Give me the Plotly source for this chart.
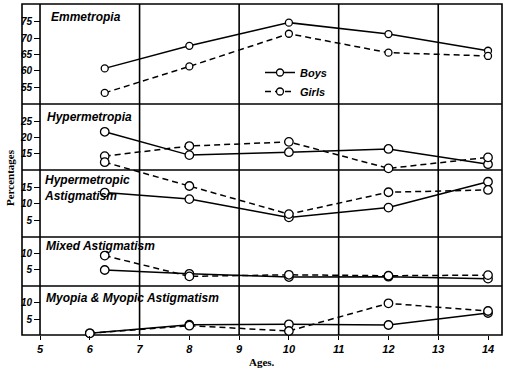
import plotly.graph_objects as go

# ---------------- data ----------------
ages = [6.3, 8, 10, 12, 14]
ages_myopia = [6, 8, 10, 12, 14]

emm_boys = [60.8, 67.7, 74.8, 71.3, 66.2]
emm_girls = [53.3, 61.4, 71.4, 65.6, 64.6]

hyp_boys = [21.8, 14.6, 15.5, 16.5, 11.8]
hyp_girls = [14.3, 17.4, 18.7, 10.5, 13.9]

hast_boys = [13.4, 11.4, 5.8, 8.8, 16.7]
hast_girls = [22.7, 15.4, 6.8, 13.5, 14.2]

mix_boys = [4.8, 3.6, 2.6, 2.7, 2.1]
mix_girls = [9.3, 2.8, 3.3, 3.0, 3.2]

myo_boys = [0.8, 3.4, 3.5, 3.3, 6.9]
myo_girls = [0.8, 3.1, 1.5, 9.8, 7.5]

panel_titles = ["Emmetropia", "Hypermetropia", "Hypermetropic<br>Astigmatism",
                "Mixed Astigmatism", "Myopia & Myopic Astigmatism"]
x_ticks = list(range(5, 15))
grid_ages = [5, 7, 9, 11, 13]

# ---------------- layout helpers ----------------
W, H = 510, 372
ML, MR, MT, MB = 22, 8, 4, 37
PW, PH = W - ML - MR, H - MT - MB

def py(pix):  # pixel row -> paper y
    return (H - MB - pix) / PH

def px(pix):  # pixel column -> paper x
    return (pix - ML) / PW

bounds = [4, 104, 170, 237, 286, 335]
sep = [py(b) for b in bounds]

panels = [
    dict(ax="y", x=ages, b=emm_boys, g=emm_girls, rng=[49.9, 80.5], ticks=[55, 60, 65, 70, 75],
         dom=[sep[1], sep[0]], msize=7),
    dict(ax="y2", x=ages, b=hyp_boys, g=hyp_girls, rng=[10.0, 30.4], ticks=[15, 20, 25],
         dom=[sep[2], sep[1]], msize=8.5),
    dict(ax="y3", x=ages, b=hast_boys, g=hast_girls, rng=[-0.2, 26.38], ticks=[5, 10, 15],
         dom=[sep[3], sep[2] + 0.06], msize=8.5),
    dict(ax="y4", x=ages, b=mix_boys, g=mix_girls, rng=[-0.2, 15.1], ticks=[5, 10],
         dom=[sep[4], sep[3]], msize=8.5),
    dict(ax="y5", x=ages_myopia, b=myo_boys, g=myo_girls, rng=[0.3, 15.0], ticks=[5, 10],
         dom=[sep[5], sep[4]], msize=8.5),
]

tickfont = dict(family="Liberation Sans", size=10, color="black", weight="bold", style="italic")

fig = go.Figure()
for i, p in enumerate(panels):
    for name, vals, dash in (("Boys", p["b"], "solid"), ("Girls", p["g"], "6px,4px")):
        fig.add_trace(go.Scatter(
            x=p["x"], y=vals, mode="lines+markers", name=name,
            legendgroup=name, showlegend=(i == 0),
            line=dict(color="black", width=1.5, dash=dash),
            marker=dict(symbol="circle", size=p["msize"], color="white",
                        line=dict(color="black", width=1.3)),
            cliponaxis=False, xaxis="x", yaxis=p["ax"], hoverinfo="skip"))

layout = dict(
    width=W, height=H, margin=dict(l=ML, r=MR, t=MT, b=MB),
    paper_bgcolor="white", plot_bgcolor="rgba(0,0,0,0)",
    font=dict(family="Liberation Sans", color="black"),
    xaxis=dict(domain=[0, 1], range=[4.638, 14.281], tickvals=x_ticks,
               ticktext=[str(t) for t in x_ticks], ticks="outside", ticklen=4,
               tickwidth=1.3, tickcolor="black", showgrid=False, zeroline=False,
               showline=False, anchor="y5",
               tickfont=dict(family="Liberation Sans", size=11, color="black",
                             weight="bold", style="italic")),
    legend=dict(x=px(260), y=py(58), xanchor="left", yanchor="top",
                bgcolor="rgba(0,0,0,0)", borderwidth=0, itemwidth=30,
                font=dict(family="Liberation Sans", size=11, color="black",
                          weight="bold", style="italic"),
                tracegroupgap=0),
    showlegend=True,
)
for p in panels:
    key = "yaxis" if p["ax"] == "y" else "yaxis" + p["ax"][1:]
    layout[key] = dict(domain=p["dom"], range=p["rng"], tickvals=p["ticks"],
                       anchor="free", position=px(40), ticks="outside", ticklen=6,
                       tickwidth=1.3, tickcolor="black", showgrid=False,
                       zeroline=False, showline=False, tickfont=tickfont)
fig.update_layout(**layout)

# frame, panel separators, vertical grid lines
shapes = [dict(type="rect", xref="paper", yref="paper", x0=0, x1=1, y0=0, y1=1,
               line=dict(color="black", width=1.6), layer="below")]
for s in sep[1:-1]:
    shapes.append(dict(type="line", xref="paper", yref="paper", x0=0, x1=1, y0=s, y1=s,
                       line=dict(color="black", width=1.5), layer="below"))
for a in grid_ages:
    shapes.append(dict(type="line", xref="x", yref="paper", x0=a, x1=a, y0=0, y1=1,
                       line=dict(color="black", width=1.6), layer="below"))
fig.update_layout(shapes=shapes)

# panel titles
title_pos = [(49, 17), (45, 117), (42, 188), (44, 246), (44, 298)]
title_font = dict(family="Liberation Sans", size=12, color="black", weight="bold", style="italic")
ann = []
for t, (cx, cy) in zip(panel_titles, title_pos):
    ann.append(dict(text=t, xref="paper", yref="paper", x=px(cx), y=py(cy),
                    xanchor="left", yanchor="middle", align="left", showarrow=False,
                    font=title_font))
ann.append(dict(text="<b>Ages.</b>", xref="paper", yref="paper", x=px(262), y=py(362),
                xanchor="center", yanchor="middle", showarrow=False,
                font=dict(family="Liberation Serif", size=11, color="black")))
ann.append(dict(text="<b>Percentages</b>", xref="paper", yref="paper", x=px(10), y=py(178),
                xanchor="center", yanchor="middle", showarrow=False, textangle=-90,
                font=dict(family="Liberation Serif", size=11, color="black")))
fig.update_layout(annotations=ann)

fig.write_html("out.html", config={"displayModeBar": False},
               post_script="document.body.style.margin='0';")
